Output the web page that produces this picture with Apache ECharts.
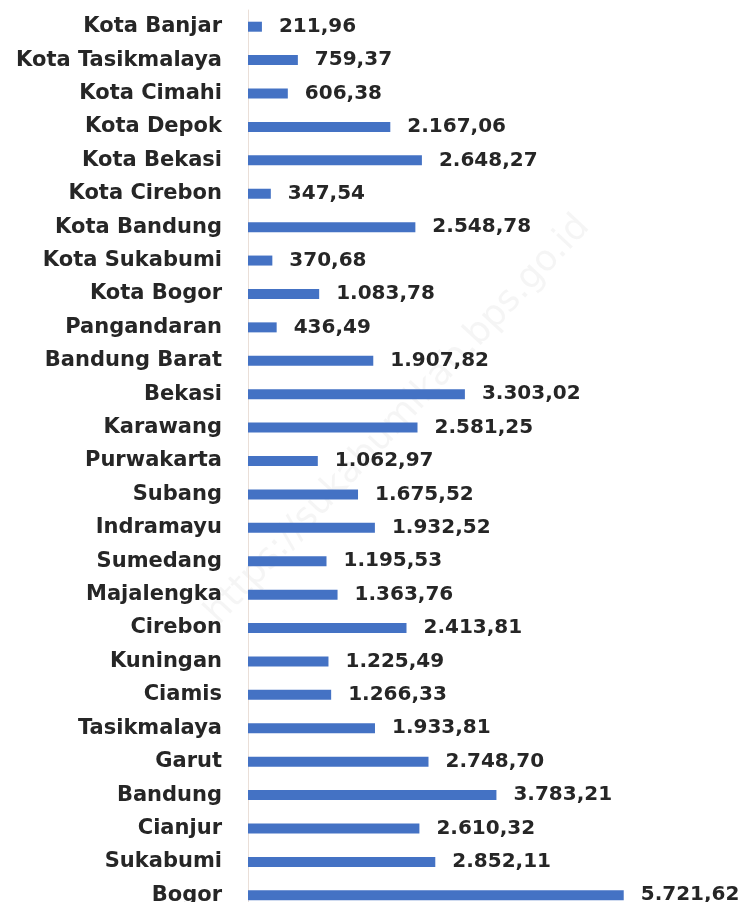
<!DOCTYPE html>
<html>
<head>
<meta charset="utf-8">
<script src="https://cdn.jsdelivr.net/npm/echarts@6/dist/echarts.min.js"></script>
<style>
  html, body { margin: 0; padding: 0; background: #fff; overflow: hidden; }
  #chart { width: 751px; height: 912px; }
</style>
</head>
<body>
<div id="chart"></div>
<script>
// kategori dari atas ke bawah
var wilayah = [
    "Kota Banjar", "Kota Tasikmalaya", "Kota Cimahi", "Kota Depok", "Kota Bekasi",
    "Kota Cirebon", "Kota Bandung", "Kota Sukabumi", "Kota Bogor", "Pangandaran",
    "Bandung Barat", "Bekasi", "Karawang", "Purwakarta", "Subang", "Indramayu",
    "Sumedang", "Majalengka", "Cirebon", "Kuningan", "Ciamis", "Tasikmalaya",
    "Garut", "Bandung", "Cianjur", "Sukabumi", "Bogor"
];
var nilai = [
    211.96, 759.37, 606.38, 2167.06, 2648.27,
    347.54, 2548.78, 370.68, 1083.78, 436.49,
    1907.82, 3303.02, 2581.25, 1062.97, 1675.52, 1932.52,
    1195.53, 1363.76, 2413.81, 1225.49, 1266.33, 1933.81,
    2748.70, 3783.21, 2610.32, 2852.11, 5721.62
];

// format angka Indonesia: 1.234,56
function formatId(v) {
    var parts = v.toFixed(2).split(".");
    return parts[0].replace(/\B(?=(\d{3})+(?!\d))/g, ".") + "," + parts[1];
}

var myEcharts = echarts.init(document.getElementById("chart"));
var option = {
    backgroundColor: "#ffffff",
    animation: false,
    graphic: [{
        type: "text",
        x: 398, y: 420,
        rotation: Math.PI * 47 / 180,
        z: 0,
        style: {
            text: "https://sukabumikab.bps.go.id",
            fontFamily: "DejaVu Sans",
            fontSize: 36,
            fill: "rgba(190,190,190,0.16)",
            align: "center",
            verticalAlign: "middle"
        }
    }],
    grid: {
        left: 248,
        top: 10,
        right: 109,
        bottom: 0
    },
    xAxis: {
        type: "value",
        min: 0,
        max: 6000,
        show: false
    },
    yAxis: {
        type: "category",
        data: wilayah,
        inverse: true,
        axisLine: { show: true, lineStyle: { color: "#eadfd8", width: 1 } },
        axisTick: { show: false },
        axisLabel: {
            margin: 26,
            color: "#262626",
            fontFamily: "DejaVu Sans",
            fontWeight: "bold",
            fontSize: 21
        },
        splitLine: { show: false }
    },
    series: [{
        type: "bar",
        data: nilai,
        barWidth: 10,
        itemStyle: { color: "#4472c4" },
        label: {
            show: true,
            position: "right",
            distance: 17,
            color: "#262626",
            fontFamily: "DejaVu Sans",
            fontWeight: "bold",
            fontSize: 20,
            formatter: function (p) { return formatId(p.value); }
        }
    }]
};
myEcharts.setOption(option);
</script>
</body>
</html>
